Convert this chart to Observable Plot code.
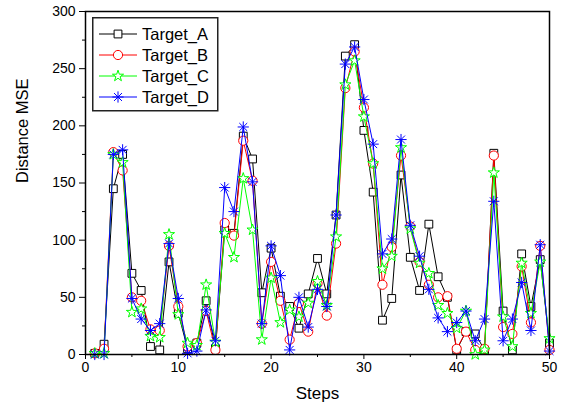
<!DOCTYPE html>
<html>
<head>
<meta charset="utf-8">
<script src="https://cdn.jsdelivr.net/npm/d3@7"></script>
<script src="https://cdn.jsdelivr.net/npm/@observablehq/plot@0.6"></script>
<style>
  body { margin: 0; background: #fff; }
  #chart { position: relative; width: 563px; height: 412px; font-family: Arial, "Liberation Sans", sans-serif; }
  #chart svg { display: block; }
</style>
</head>
<body>
<div id="chart"></div>
<script>
// Steps along the trajectory
const steps = [1, 2, 3, 4, 5, 6, 7, 8, 9, 10, 11, 12, 13, 14, 15, 16, 17, 18, 19, 20,
  21, 22, 23, 24, 25, 26, 27, 28, 29, 30, 31, 32, 33, 34, 35, 36, 37, 38, 39, 40,
  41, 42, 43, 44, 45, 46, 47, 48, 49, 50];

// Distance MSE per target
const targetA = [1, 9, 145, 175, 71, 56, 7, 4, 81, 36, 5, 10, 47, 5, 109, 106, 191, 171, 54, 93,
  51, 42, 23, 53, 84, 53, 122, 261, 271, 196, 142, 30, 49, 157, 85, 56, 114, 68, 50, 4,
  20, 18, 4, 176, 38, 4, 88, 42, 83, 10];
const targetB = [1, 5, 177, 161, 50, 47, 22, 21, 95, 42, 7, 10, 38, 4, 115, 104, 187, 152, 27, 81,
  47, 13, 45, 20, 62, 34, 97, 233, 265, 216, 167, 61, 94, 174, 112, 81, 61, 50, 51, 5,
  20, 4, 5, 174, 24, 18, 77, 28, 95, 4];
const targetC = [1, 1, 175, 168, 37, 40, 16, 15, 105, 35, 10, 8, 61, 11, 106, 85, 154, 109, 13, 67,
  28, 39, 33, 45, 64, 43, 103, 236, 257, 208, 167, 75, 86, 181, 110, 80, 71, 43, 36, 23,
  38, 0, 4, 159, 33, 7, 80, 36, 81, 14];
const targetD = [0, 0, 175, 179, 49, 31, 21, 27, 97, 49, 1, 3, 39, 12, 146, 125, 199, 151, 27, 95,
  69, 4, 50, 24, 57, 42, 122, 254, 269, 223, 184, 88, 101, 188, 113, 86, 57, 32, 20, 28,
  38, 12, 31, 134, 12, 31, 63, 21, 96, 3];

const seriesNames = ["Target_A", "Target_B", "Target_C", "Target_D"];
const seriesValues = [targetA, targetB, targetC, targetD];

const xTicks = [0, 10, 20, 30, 40, 50];
const xMinorTicks = [5, 15, 25, 35, 45];
const yTicks = [0, 50, 100, 150, 200, 250, 300];
const yMinorTicks = [25, 75, 125, 175, 225, 275];

// Eight-armed asterisk marker
const asterisk8 = {
  draw(context, size) {
    const r = Math.sqrt(size / Math.PI);
    for (const a of [0, Math.PI / 4, Math.PI / 2, 3 * Math.PI / 4]) {
      const c = Math.cos(a) * r, s = Math.sin(a) * r;
      context.moveTo(-c, -s);
      context.lineTo(c, s);
    }
  }
};

const styles = [
  {color: "#000000", symbol: "square", r: 4.4, fill: "white"},
  {color: "#ff0000", symbol: "circle", r: 4.6, fill: "white"},
  {color: "#00ff00", symbol: "star", r: 3.5, fill: "white"},
  {color: "#0000ff", symbol: asterisk8, r: 5.6, fill: "none"}
];

const rows = seriesNames.map((name, i) =>
  steps.map((step, j) => ({series: name, step, value: seriesValues[i][j]})));

const seriesMarks = rows.flatMap((data, i) => {
  const st = styles[i];
  return [
    Plot.line(data, {x: "step", y: "value", stroke: st.color, strokeWidth: 1}),
    Plot.dot(data, {x: "step", y: "value", symbol: st.symbol, r: st.r, stroke: st.color,
      fill: st.fill, strokeWidth: 1})
  ];
});

const chart = Plot.plot({
  width: 563,
  height: 412,
  marginLeft: 85,
  marginRight: 14,
  marginTop: 11,
  marginBottom: 58,
  style: {fontFamily: 'Arial, "Liberation Sans", sans-serif', fontSize: "14px", color: "#000", background: "#fff"},
  x: {domain: [0, 50]},
  y: {domain: [0, 300]},
  marks: [
    ...seriesMarks,
    Plot.frame({stroke: "#000", strokeWidth: 1.5}),
    Plot.axisX({ticks: xTicks, tickSize: 5, tickPadding: 3, fontSize: 14, label: null, stroke: "#000"}),
    Plot.axisX({ticks: xMinorTicks, tickSize: 3, tickFormat: () => "", label: null, stroke: "#000"}),
    Plot.axisY({ticks: yTicks, tickSize: 6, tickPadding: 4, fontSize: 14, label: null, stroke: "#000"}),
    Plot.axisY({ticks: yMinorTicks, tickSize: 3, tickFormat: () => "", label: null, stroke: "#000"}),
    Plot.text(["Steps"], {text: d => d, frameAnchor: "bottom", dy: 44, fontSize: 17, fill: "#000"}),
    Plot.text(["Distance MSE"], {text: d => d, frameAnchor: "left", dx: -63, rotate: -90, fontSize: 16.5, fill: "#000"})
  ]
});

const container = document.getElementById("chart");
container.appendChild(chart);

// Legend box drawn over the upper-left of the plot area
const legend = d3.select(container).append("svg")
  .attr("width", 127).attr("height", 95)
  .style("position", "absolute").style("left", "92px").style("top", "17px");
legend.append("rect")
  .attr("x", 0.75).attr("y", 0.75).attr("width", 125).attr("height", 93)
  .attr("fill", "#fff").attr("stroke", "#222").attr("stroke-width", 1.5);
seriesNames.forEach((name, i) => {
  const st = styles[i];
  const g = legend.append("g").attr("transform", `translate(0,${17 + i * 21})`);
  g.append("line").attr("x1", 7).attr("x2", 45).attr("y1", 0).attr("y2", 0)
    .attr("stroke", st.color).attr("stroke-width", 1);
  const symType = typeof st.symbol === "string"
    ? {square: d3.symbolSquare, circle: d3.symbolCircle, star: d3.symbolStar}[st.symbol]
    : st.symbol;
  g.append("path")
    .attr("transform", "translate(26,0)")
    .attr("d", d3.symbol(symType, st.r * st.r * Math.PI)())
    .attr("fill", st.fill).attr("stroke", st.color).attr("stroke-width", 1);
  g.append("text").attr("x", 50).attr("y", 0).attr("dy", "0.36em")
    .attr("font-size", 16.5).attr("fill", "#000")
    .attr("font-family", 'Arial, "Liberation Sans", sans-serif')
    .text(name);
});
</script>
</body>
</html>
